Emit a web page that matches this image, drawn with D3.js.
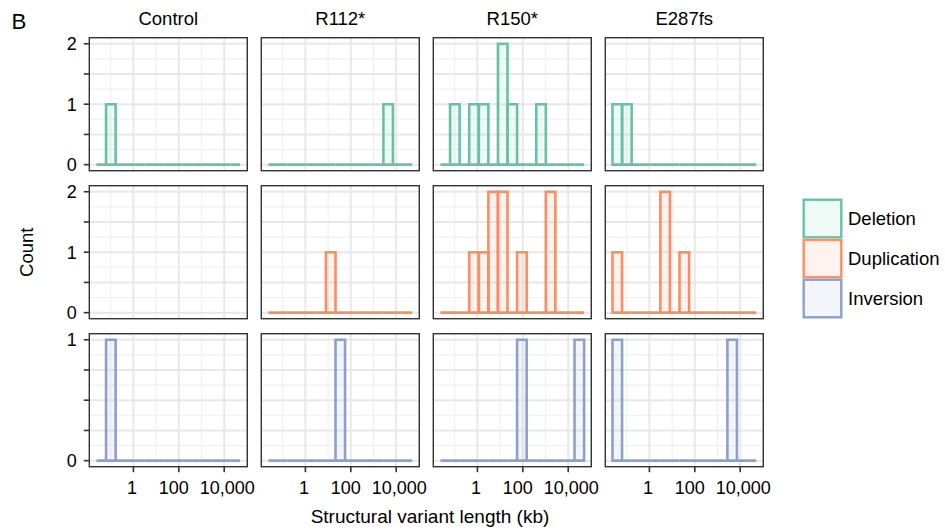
<!DOCTYPE html>
<html>
<head>
<meta charset="utf-8">
<script src="https://cdn.jsdelivr.net/npm/d3@7"></script>
<style>
  html, body { margin: 0; padding: 0; background: #ffffff; }
  svg { display: block; }
  text { font-family: "Liberation Sans", Arial, Helvetica, sans-serif; fill: #000; }
</style>
</head>
<body>
<svg id="chart" width="945" height="531"></svg>
<script>
// Facet columns (genotype groups) and rows (structural variant types)
const groups = ["Control", "R112*", "R150*", "E287fs"];
const svTypes = ["Deletion", "Duplication", "Inversion"];
const typeColors = ["#66C2A5", "#FC8D62", "#8DA0CB"];

// Histogram bins: 15 equal bins on log10(length in kb), outer edges below
const binCount = 15;
const binEdgeLog = [-1.626, 4.70];

// Counts per bin, one array per group (null = no variants in that group)
const deletionCounts = [
  [0, 1, 0, 0, 0, 0, 0, 0, 0, 0, 0, 0, 0, 0, 0],
  [0, 0, 0, 0, 0, 0, 0, 0, 0, 0, 0, 0, 1, 0, 0],
  [0, 1, 0, 1, 1, 0, 2, 1, 0, 0, 1, 0, 0, 0, 0],
  [1, 1, 0, 0, 0, 0, 0, 0, 0, 0, 0, 0, 0, 0, 0]
];
const duplicationCounts = [
  null,
  [0, 0, 0, 0, 0, 0, 1, 0, 0, 0, 0, 0, 0, 0, 0],
  [0, 0, 0, 1, 1, 2, 2, 0, 1, 0, 0, 2, 0, 0, 0],
  [1, 0, 0, 0, 0, 2, 0, 1, 0, 0, 0, 0, 0, 0, 0]
];
const inversionCounts = [
  [0, 1, 0, 0, 0, 0, 0, 0, 0, 0, 0, 0, 0, 0, 0],
  [0, 0, 0, 0, 0, 0, 0, 1, 0, 0, 0, 0, 0, 0, 0],
  [0, 0, 0, 0, 0, 0, 0, 0, 1, 0, 0, 0, 0, 0, 1],
  [1, 0, 0, 0, 0, 0, 0, 0, 0, 0, 0, 0, 1, 0, 0]
];

// Axis breaks
const xTicks = [1, 100, 10000];
const xTickLabels = ["1", "100", "10,000"];
const yTicksByRow = [
  [0, 0.5, 1, 1.5, 2],
  [0, 0.5, 1, 1.5, 2],
  [0, 0.25, 0.5, 0.75, 1]
];
const yTickLabelsByRow = [
  ["0", "", "1", "", "2"],
  ["0", "", "1", "", "2"],
  ["0", "", "", "", "1"]
];

const countsByType = [deletionCounts, duplicationCounts, inversionCounts];

// Layout
const panelX0 = 89.3, colStep = 172, panelW = 158;
const panelY0 = 37.7, rowStep = 148, panelH = 133;
const fontSize = 18.5;
const tickFontSize = 18;
// horizontal nudges keep the crowded x labels apart
const xLabelNudge = [-1.5, -5, 3];

const svg = d3.select("#chart");

// Shared x domain: bin extent plus 5% expansion on each side (log10 space)
const binWidthLog = (binEdgeLog[1] - binEdgeLog[0]) / binCount;
const span = binEdgeLog[1] - binEdgeLog[0];
const xDomainLog = [binEdgeLog[0] - 0.05 * span, binEdgeLog[1] + 0.05 * span];
const binEdges = d3.range(binCount + 1).map(i => Math.pow(10, binEdgeLog[0] + i * binWidthLog));

// Minor x grid between decades of major breaks
const xMinor = [0.1, 10, 1000, 100000];

svTypes.forEach((type, r) => {
  const top = panelY0 + r * rowStep;
  const rowCounts = countsByType[r];
  const yMax = d3.max(rowCounts.filter(c => c), c => d3.max(c));
  const y = d3.scaleLinear()
    .domain([-0.05 * yMax, 1.05 * yMax])
    .range([top + panelH, top]);
  const yTicks = yTicksByRow[r];
  const yMinor = d3.pairs(yTicks).map(([a, b]) => (a + b) / 2);

  groups.forEach((group, c) => {
    const left = panelX0 + c * colStep;
    const x = d3.scaleLog()
      .domain(xDomainLog.map(v => Math.pow(10, v)))
      .range([left, left + panelW]);
    const g = svg.append("g");

    // Panel background
    g.append("rect")
      .attr("x", left).attr("y", top)
      .attr("width", panelW).attr("height", panelH)
      .attr("fill", "#ffffff");

    // Minor grid
    g.selectAll(".xminor").data(xMinor.filter(v => x(v) > left && x(v) < left + panelW))
      .join("line")
      .attr("x1", d => x(d)).attr("x2", d => x(d))
      .attr("y1", top).attr("y2", top + panelH)
      .attr("stroke", "#EFEFEF").attr("stroke-width", 1.1);
    g.selectAll(".yminor").data(yMinor)
      .join("line")
      .attr("x1", left).attr("x2", left + panelW)
      .attr("y1", d => y(d)).attr("y2", d => y(d))
      .attr("stroke", "#EFEFEF").attr("stroke-width", 1.1);

    // Major grid
    g.selectAll(".xmajor").data(xTicks)
      .join("line")
      .attr("x1", d => x(d)).attr("x2", d => x(d))
      .attr("y1", top).attr("y2", top + panelH)
      .attr("stroke", "#E8E8E8").attr("stroke-width", 2);
    g.selectAll(".ymajor").data(yTicks)
      .join("line")
      .attr("x1", left).attr("x2", left + panelW)
      .attr("y1", d => y(d)).attr("y2", d => y(d))
      .attr("stroke", "#E8E8E8").attr("stroke-width", 2);

    // Histogram bars, one outlined rectangle per bin
    const counts = rowCounts[c];
    if (counts) {
      const bars = counts.map((n, i) => ({ x0: binEdges[i], x1: binEdges[i + 1], n }));
      g.selectAll(".bar").data(bars)
        .join("path")
        .attr("d", d => {
          const x0 = x(d.x0), x1 = x(d.x1), y0 = y(0), y1 = y(d.n);
          return `M${x0},${y0}V${y1}H${x1}V${y0}Z`;
        })
        .attr("fill", typeColors[r])
        .attr("fill-opacity", d => d.n > 0 ? 0.1 : 0)
        .attr("stroke", typeColors[r])
        .attr("stroke-width", 2.6)
        .attr("stroke-linejoin", "miter");
    }

    // Panel border
    g.append("rect")
      .attr("x", left).attr("y", top)
      .attr("width", panelW).attr("height", panelH)
      .attr("fill", "none")
      .attr("stroke", "#333333").attr("stroke-width", 1.4);

    // Column strip label
    if (r === 0) {
      svg.append("text")
        .attr("x", left + panelW / 2).attr("y", 25)
        .attr("text-anchor", "middle")
        .attr("font-size", fontSize)
        .text(group);
    }

    // Y axis on the first column
    if (c === 0) {
      const ya = svg.append("g");
      ya.selectAll("line").data(yTicks).join("line")
        .attr("x1", left - 5.5).attr("x2", left)
        .attr("y1", d => y(d)).attr("y2", d => y(d))
        .attr("stroke", "#333333").attr("stroke-width", 1.6);
      ya.selectAll("text").data(yTicks.map((v, i) => ({ v, label: yTickLabelsByRow[r][i] })))
        .join("text")
        .attr("x", left - 12.5)
        .attr("y", d => y(d.v) + tickFontSize * 0.358)
        .attr("text-anchor", "end")
        .attr("font-size", tickFontSize)
        .text(d => d.label);
    }

    // X axis under the last row
    if (r === svTypes.length - 1) {
      const xa = svg.append("g");
      xa.selectAll("line").data(xTicks).join("line")
        .attr("x1", d => x(d)).attr("x2", d => x(d))
        .attr("y1", top + panelH).attr("y2", top + panelH + 5.5)
        .attr("stroke", "#333333").attr("stroke-width", 1.6);
      xa.selectAll("text").data(xTicks.map((v, i) => ({ v, label: xTickLabels[i], nudge: xLabelNudge[i] })))
        .join("text")
        .attr("x", d => x(d.v) + d.nudge)
        .attr("y", top + panelH + 27.5)
        .attr("text-anchor", "middle")
        .attr("font-size", tickFontSize)
        .text(d => d.label);
    }
  });
});

// Axis titles
const panelsBottom = panelY0 + 2 * rowStep + panelH;
svg.append("text")
  .attr("x", 430)
  .attr("y", 523)
  .attr("text-anchor", "middle")
  .attr("font-size", 19)
  .text("Structural variant length (kb)");
svg.append("text")
  .attr("transform", `translate(33,${(panelY0 + panelsBottom) / 2}) rotate(-90)`)
  .attr("text-anchor", "middle")
  .attr("font-size", fontSize)
  .text("Count");

// Panel tag
svg.append("text")
  .attr("x", 11.5).attr("y", 29.3)
  .attr("font-size", 22.3)
  .text("B");

// Legend
const keySize = 40, keyX = 802.5, keyY = 198.5;
const legend = svg.append("g");
svTypes.forEach((type, i) => {
  const ky = keyY + i * keySize;
  legend.append("rect")
    .attr("x", keyX).attr("y", ky)
    .attr("width", keySize).attr("height", keySize)
    .attr("fill", "#ffffff");
  legend.append("rect")
    .attr("x", keyX + 1.2).attr("y", ky + 1.2)
    .attr("width", keySize - 2.4).attr("height", keySize - 2.4)
    .attr("fill", typeColors[i]).attr("fill-opacity", 0.1)
    .attr("stroke", typeColors[i]).attr("stroke-width", 2.4);
  legend.append("text")
    .attr("x", keyX + keySize + 5.5)
    .attr("y", ky + keySize / 2 + fontSize * 0.358)
    .attr("font-size", fontSize)
    .text(type);
});
</script>
</body>
</html>
